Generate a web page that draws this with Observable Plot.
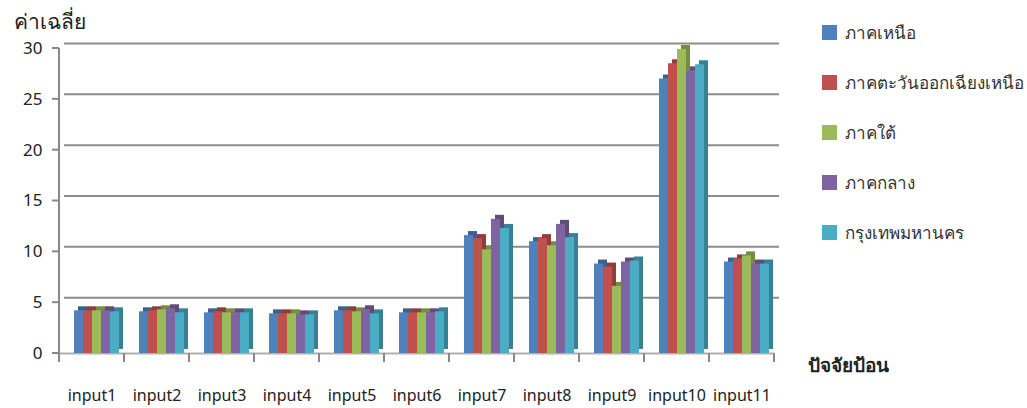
<!DOCTYPE html>
<html><head><meta charset="utf-8">
<script src="https://cdn.jsdelivr.net/npm/d3@7"></script>
<script src="https://cdn.jsdelivr.net/npm/@observablehq/plot@0.6"></script>
<style>
body{margin:0;background:#fff;font-family:"Noto Sans","DejaVu Sans",sans-serif;color:#222;}
#wrap{position:relative;width:1027px;height:408px;overflow:hidden;background:#fff;}
#chart{position:absolute;left:0;top:0;}
.ylab{position:absolute;left:14px;top:5px;font-size:21px;}
.xlab{position:absolute;left:808px;top:350px;font-size:19px;font-weight:bold;}
#legend{position:absolute;left:822px;top:7px;}
.item{display:flex;align-items:center;height:50px;font-size:17px;color:#333;}
.sw{width:15px;height:15px;margin-right:8px;}
</style></head>
<body><div id="wrap"><div id="chart"></div><div class="ylab">ค่าเฉลี่ย</div><div class="xlab">ปัจจัยป้อน</div><div id="legend"></div></div>
<script>
const inputs = ["input1","input2","input3","input4","input5","input6","input7","input8","input9","input10","input11"];
const series = ["ภาคเหนือ","ภาคตะวันออกเฉียงเหนือ","ภาคใต้","ภาคกลาง","กรุงเทพมหานคร"];
const colors = ["#4F81BD","#C0504D","#9BBB59","#8064A2","#4BACC6"];
const north     = [4.2,4.1,4.0,3.9,4.2,4.0,11.6,11.0,8.8,27.0,9.0];
const northeast = [4.2,4.2,4.1,3.9,4.2,4.0,11.3,11.3,8.5,28.5,9.3];
const south     = [4.2,4.3,4.0,3.9,4.1,4.0,10.2,10.6,6.6,29.9,9.6];
const central   = [4.2,4.4,4.0,3.8,4.3,4.0,13.2,12.7,9.0,27.8,8.8];
const bangkok   = [4.1,4.0,4.0,3.8,3.9,4.1,12.3,11.4,9.1,28.4,8.8];
const yTicks = [0,5,10,15,20,25,30];

const seriesValues = [north, northeast, south, central, bangkok];
const rows = [];
inputs.forEach((inp, i) => series.forEach((s, j) => rows.push({input: inp, series: s, value: seriesValues[j][i]})));
const dark = new Map(series.map((s, j) => [s, d3.color(colors[j]).darker(0.8).formatHex()]));

const chart = Plot.plot({
  width: 800,
  height: 408,
  marginLeft: 55,
  marginRight: 22,
  marginTop: 48,
  marginBottom: 55,
  style: {fontFamily: '"Noto Sans","DejaVu Sans",sans-serif', color: "#222", background: "#fff"},
  fx: {domain: inputs, padding: 0, label: null, axis: null},
  x: {domain: series, paddingInner: 0, paddingOuter: 0.8, align: 0.75, axis: null},
  y: {domain: [0, 30], label: null, axis: null},
  color: {domain: series, range: colors},
  marks: [
    Plot.ruleY(yTicks.filter(d => d > 0), {stroke: "#8c8c8c", strokeWidth: 2, dx: 5, dy: -5}),
    Plot.ruleY([0], {stroke: "#b0b0b0", strokeWidth: 2}),
    Plot.barY(rows, {fx: "input", x: "series", y: "value", fill: d => dark.get(d.series), dx: 4, dy: -4}),
    Plot.barY(rows, {fx: "input", x: "series", y: "value", fill: "series"}),
    Plot.axisY(yTicks, {anchor: "left", tickSize: 0, tickPadding: 17, fontSize: 17, label: null}),
    Plot.axisFx({anchor: "bottom", tickSize: 0, tickPadding: 36, fontSize: 16, label: null})
  ]
});

// axis line, y ticks and category boundary ticks, positioned through the chart's own scales
const ys = chart.scale("y"), fxs = chart.scale("fx");
const svg = d3.select(chart.tagName === "svg" ? chart : chart.querySelector("svg"));
const y0 = ys.apply(0), y30 = ys.apply(30);
const xLeft = fxs.apply(inputs[0]);
const g = svg.append("g").attr("stroke", "#888").attr("stroke-width", 2);
g.append("line").attr("x1", xLeft).attr("x2", xLeft).attr("y1", y0).attr("y2", y30);
yTicks.forEach(t => g.append("line").attr("x1", xLeft - 7).attr("x2", xLeft).attr("y1", ys.apply(t)).attr("y2", ys.apply(t)));
const bounds = inputs.map(d => fxs.apply(d)).concat([fxs.apply(inputs[inputs.length - 1]) + fxs.bandwidth]);
bounds.forEach(x => g.append("line").attr("x1", x).attr("x2", x).attr("y1", y0).attr("y2", y0 + 9));

document.getElementById("chart").appendChild(chart);

const legend = document.getElementById("legend");
series.forEach((s, j) => {
  const it = document.createElement("div");
  it.className = "item";
  it.innerHTML = `<span class="sw" style="background:${colors[j]}"></span><span>${s}</span>`;
  legend.appendChild(it);
});
</script>
</body></html>
